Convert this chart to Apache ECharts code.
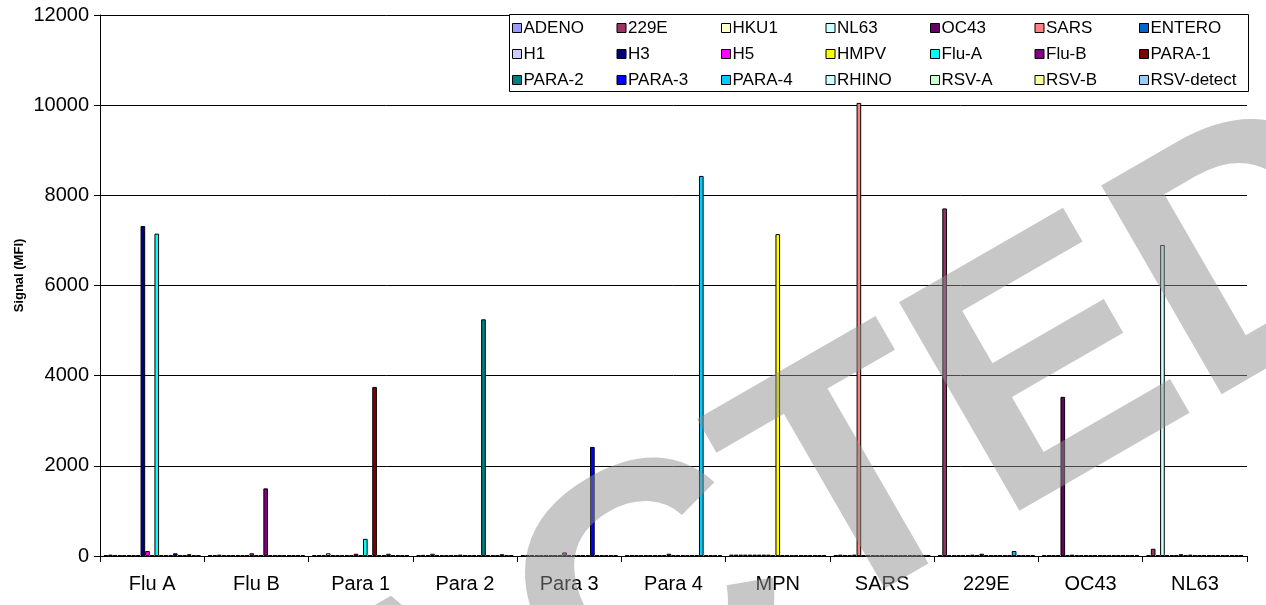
<!DOCTYPE html>
<html>
<head>
<meta charset="utf-8">
<script src="https://cdn.jsdelivr.net/npm/echarts@6/dist/echarts.min.js"></script>
<style>html,body{margin:0;padding:0;background:#fff;}#c{width:1266px;height:605px;}</style>
</head>
<body>
<div id="c"></div>
<script>
// Categories (x axis)
const categories = ['Flu A', 'Flu B', 'Para 1', 'Para 2', 'Para 3', 'Para 4', 'MPN', 'SARS', '229E', 'OC43', 'NL63'];

// Series values (Signal MFI), one array per probe, in category order
const ADENO     = [20, 20, 20, 20, 15, 15, 30, 20, 20, 20, 20];
const v229E     = [30, 20, 20, 25, 20, 20, 30, 30, 7710, 20, 160];
const HKU1      = [20, 30, 20, 20, 20, 20, 30, 20, 20, 20, 20];
const NL63      = [20, 20, 60, 50, 20, 20, 30, 20, 20, 20, 6900];
const OC43      = [20, 20, 20, 20, 20, 20, 30, 30, 20, 3530, 20];
const SARS      = [20, 20, 20, 20, 20, 20, 30, 10050, 20, 20, 20];
const ENTERO    = [20, 20, 20, 20, 20, 20, 30, 20, 20, 30, 20];
const H1        = [20, 20, 20, 20, 20, 20, 30, 20, 30, 20, 40];
const H3        = [7320, 20, 20, 20, 20, 20, 30, 20, 20, 20, 20];
const H5        = [110, 60, 50, 30, 80, 50, 20, 20, 50, 20, 30];
const HMPV      = [10, 20, 20, 20, 20, 20, 7140, 20, 20, 20, 20];
const FLU_A     = [7150, 20, 380, 20, 20, 20, 20, 20, 20, 20, 20];
const FLU_B     = [20, 1500, 20, 20, 20, 20, 20, 20, 20, 20, 20];
const PARA_1    = [20, 20, 3750, 20, 20, 20, 20, 20, 20, 20, 20];
const PARA_2    = [20, 20, 20, 5250, 20, 20, 20, 20, 20, 20, 20];
const PARA_3    = [60, 20, 20, 20, 2420, 20, 20, 20, 20, 20, 20];
const PARA_4    = [20, 20, 50, 20, 20, 8430, 20, 20, 110, 20, 20];
const RHINO     = [20, 20, 20, 20, 20, 20, 20, 20, 20, 20, 20];
const RSV_A     = [40, 20, 20, 40, 20, 20, 20, 20, 20, 20, 20];
const RSV_B     = [20, 20, 20, 20, 20, 20, 20, 20, 20, 20, 20];
const RSV_DET   = [20, 20, 20, 20, 20, 20, 20, 20, 20, 20, 20];

// Y axis ticks
const yMin = 0, yMax = 12000, yStep = 2000;

const seriesNames = ['ADENO', '229E', 'HKU1', 'NL63', 'OC43', 'SARS', 'ENTERO', 'H1', 'H3', 'H5', 'HMPV', 'Flu-A', 'Flu-B', 'PARA-1', 'PARA-2', 'PARA-3', 'PARA-4', 'RHINO', 'RSV-A', 'RSV-B', 'RSV-detect'];
const seriesData = [ADENO, v229E, HKU1, NL63, OC43, SARS, ENTERO, H1, H3, H5, HMPV, FLU_A, FLU_B, PARA_1, PARA_2, PARA_3, PARA_4, RHINO, RSV_A, RSV_B, RSV_DET];

// Styles
const colors = ['#9999FF', '#993366', '#FFFFCC', '#CCFFFF', '#660066', '#FF8080', '#0066CC', '#CCCCFF', '#000080', '#FF00FF', '#FFFF00', '#00FFFF', '#800080', '#800000', '#008080', '#0000FF', '#00CCFF', '#CCFFFF', '#CCFFCC', '#FFFF99', '#99CCFF'];
const FONT = 'Liberation Sans, Arial, sans-serif';

const chart = echarts.init(document.getElementById('c'), null, {renderer: 'canvas'});

const series = seriesNames.map((name, i) => ({
  name: name,
  type: 'bar',
  data: seriesData[i],
  barGap: '0%',
  barCategoryGap: '6.7%',
  itemStyle: {color: colors[i], borderColor: '#000', borderWidth: 1},
  emphasis: {disabled: true},
  animation: false
}));

chart.setOption({
  animation: false,
  backgroundColor: '#fff',
  color: colors,
  grid: {left: 100, right: 19, top: 15, bottom: 49, containLabel: false},
  legend: {
    data: seriesNames,
    left: 512, top: 15, width: 760,
    padding: 0, itemGap: 0,
    itemWidth: 9, itemHeight: 9,
    icon: 'rect',
    itemStyle: {borderColor: '#000', borderWidth: 1},
    textStyle: {fontFamily: FONT, fontSize: 17, color: '#000', width: 93, lineHeight: 26, padding: [0, 0, 0, -3]},
    selectedMode: false
  },
  xAxis: {
    type: 'category',
    data: categories,
    axisLine: {show: true, lineStyle: {color: '#000', width: 1}},
    axisTick: {show: true, alignWithLabel: false, length: 6, lineStyle: {color: '#000'}},
    axisLabel: {fontFamily: FONT, fontSize: 20, color: '#000', margin: 18, interval: 0},
    splitLine: {show: false}
  },
  yAxis: {
    type: 'value',
    min: yMin, max: yMax, interval: yStep,
    name: 'Signal (MFI)',
    nameLocation: 'middle',
    nameRotate: 90,
    nameGap: 74,
    nameMoveOverlap: false,
    nameTextStyle: {fontFamily: FONT, fontSize: 13, fontWeight: 'bold', color: '#000', padding: [0, 0, 0, 20]},
    axisLine: {show: true, lineStyle: {color: '#000', width: 1}},
    axisTick: {show: true, length: 6, lineStyle: {color: '#000'}},
    axisLabel: {fontFamily: FONT, fontSize: 20, color: '#000', margin: 11, formatter: v => String(v)},
    splitLine: {show: true, lineStyle: {color: '#000', width: 1}}
  },
  graphic: [
    {
      type: 'rect', z: 3,
      shape: {x: 509.5, y: 14.5, width: 739, height: 77},
      style: {fill: '#fff', stroke: '#000', lineWidth: 1}
    },
    {
      type: 'text', z: 100,
      x: 530, y: 682, rotation: Math.PI / 6,
      style: {
        text: 'REDACTED',
        font: 'bold 350px Liberation Sans, Arial, sans-serif',
        fill: '#8f8f8f', opacity: 0.5,
        align: 'center', verticalAlign: 'middle'
      }
    }
  ],
  series: series
});
</script>
</body>
</html>
